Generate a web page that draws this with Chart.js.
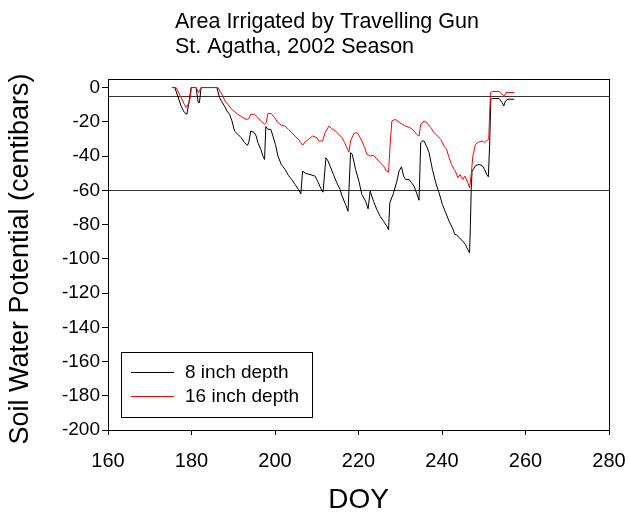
<!DOCTYPE html>
<html>
<head>
<meta charset="utf-8">
<script src="https://cdn.jsdelivr.net/npm/chart.js@4.4.1/dist/chart.umd.min.js"></script>
<style>
  html, body { margin: 0; padding: 0; background: #ffffff; }
  #wrap { width: 629px; height: 517px; }
</style>
</head>
<body>
<div id="wrap"><canvas id="c" width="629" height="517"></canvas></div>
<script>
// Chart text
const titleLines = ['Area Irrigated by Travelling Gun', 'St. Agatha, 2002 Season'];
const xAxisTitle = 'DOY';
const yAxisTitle = 'Soil Water Potential (centibars)';
const seriesNames = ['8 inch depth', '16 inch depth'];

// Axis ticks
const xTicks = [160, 180, 200, 220, 240, 260, 280];
const yTicks = [0, -20, -40, -60, -80, -100, -120, -140, -160, -180, -200];

// Reference levels (centibars)
const thresholds = [-5, -60];

// 8 inch depth: day of year and soil water potential
const doy8 = [175.3, 176.0, 176.7, 177.5, 178.1, 178.4, 178.9, 179.5, 179.9, 181.1, 181.6, 181.9, 182.3, 186.1, 186.7, 187.2, 187.9, 188.5,
  189.1, 189.7, 190.3, 191.1, 191.9, 192.7, 193.4, 193.7, 194.2, 195.0, 195.5, 195.9, 196.6, 197.1, 197.5, 197.8, 198.3, 199.0,
  199.5, 200.1, 200.7, 201.5, 202.4, 203.2, 204.0, 204.8, 205.6, 206.2, 206.6, 207.4, 208.4, 209.6, 210.4, 211.0, 211.5, 212.2,
  212.6, 213.2, 214.0, 214.8, 215.6, 216.0, 216.9, 217.5, 218.1, 218.5, 219.3, 220.1, 220.8, 221.7, 222.3, 222.8, 223.6, 224.4,
  225.2, 226.0, 226.8, 227.2, 227.5, 228.4, 229.2, 229.7, 230.3, 230.8, 231.3, 232.1, 232.7, 233.3, 233.9, 234.5, 234.9, 235.3,
  235.7, 236.3, 236.9, 237.7, 238.5, 239.3, 240.1, 240.9, 241.7, 242.5, 243.1, 243.4, 244.2, 245.0, 245.6, 246.2, 246.6, 246.8,
  247.0, 247.2, 247.6, 248.1, 248.9, 249.6, 250.2, 250.7, 251.1, 251.4, 251.7, 252.1, 253.7, 254.4, 254.8, 255.2, 255.8, 257.3];
const swp8 = [0, 0, -4.9, -10.8, -13.7, -14.7, -15.6, -6.8, 0, 0, -8.8, -8.8, 0, 0, -5.9, -8.0, -10.8, -13.7,
  -15.6, -19.5, -25.4, -27.3, -29.3, -32.2, -33.8, -32.2, -25.4, -26.3, -28.3, -32.2, -36.1, -40.0, -42.0, -22.8, -24.4, -24.4,
  -28.3, -33.2, -40.0, -44.9, -47.8, -51.3, -53.7, -56.6, -59.5, -62.1, -48.8, -50.2, -50.8, -51.7, -55.6, -59.1, -61.1, -41.0,
  -42.4, -45.9, -50.8, -55.6, -59.5, -63.0, -68.3, -72.2, -38.0, -39.0, -47.8, -54.7, -62.5, -66.4, -70.8, -60.5, -66.4, -71.3,
  -75.2, -78.1, -81.0, -83.0, -67.3, -61.5, -54.7, -48.8, -46.3, -51.7, -53.7, -53.7, -55.6, -57.6, -61.5, -65.8, -32.2, -31.2,
  -31.2, -34.2, -38.0, -47.8, -55.6, -61.5, -68.3, -73.2, -78.1, -82.0, -85.9, -85.9, -87.8, -89.8, -91.7, -94.7, -96.6, -81.0,
  -59.5, -48.8, -47.4, -45.5, -44.9, -45.5, -47.8, -50.8, -52.1, -34.2, -6.8, -6.4, -6.4, -8.8, -10.8, -7.8, -6.8, -6.8];

// 16 inch depth: day of year and soil water potential
const doy16 = [175.3, 176.3, 177.5, 178.3, 178.7, 179.5, 180.0, 181.1, 181.7, 182.3, 186.3, 187.5, 188.0, 188.7, 189.6, 191.1, 192.3,
  193.1, 193.7, 194.2, 195.1, 195.9, 196.7, 197.5, 197.9, 198.3, 199.1, 199.9, 200.7, 201.5, 202.4, 203.2, 204.0, 204.8, 205.6,
  206.2, 206.6, 207.2, 208.0, 209.0, 210.0, 210.5, 211.4, 212.0, 212.9, 213.6, 214.5, 215.3, 216.0, 216.7, 217.2, 217.7, 218.1,
  218.9, 219.6, 220.2, 220.8, 221.5, 222.0, 222.8, 223.6, 224.4, 225.2, 226.0, 226.7, 227.2, 227.6, 228.0, 228.8, 229.7, 230.5,
  231.3, 232.3, 233.1, 233.9, 234.5, 234.9, 235.7, 236.5, 237.3, 238.1, 238.9, 239.7, 240.5, 241.1, 241.7, 242.3, 242.9, 243.2,
  243.8, 244.3, 245.0, 245.5, 246.2, 246.6, 247.0, 247.4, 248.0, 248.8, 249.6, 250.2, 250.8, 251.2, 251.6, 252.1, 253.7, 254.4,
  254.9, 255.3, 257.3];
const swp16 = [0, 0, -5.9, -9.8, -11.7, -8.8, 0, 0, -3.0, 0, 0, -4.9, -7.8, -9.8, -12.7, -15.6, -17.6,
  -18.6, -18.2, -15.6, -15.6, -17.6, -19.5, -21.5, -20.5, -15.2, -15.2, -17.6, -20.5, -21.9, -22.5, -24.4, -26.3, -28.3, -30.3,
  -32.2, -33.8, -31.8, -30.3, -28.3, -29.3, -31.2, -31.2, -26.3, -22.5, -24.0, -25.4, -27.3, -29.3, -32.2, -35.1, -37.7, -31.2,
  -26.8, -26.3, -28.3, -31.2, -35.1, -39.0, -40.0, -39.6, -41.6, -43.9, -45.9, -48.8, -49.4, -32.2, -19.5, -18.6, -20.1, -21.5,
  -22.5, -23.4, -24.8, -27.3, -28.3, -21.5, -19.5, -20.9, -23.4, -26.3, -28.3, -30.3, -34.2, -36.1, -41.0, -44.9, -47.8, -48.8,
  -52.7, -50.8, -53.7, -51.7, -55.6, -58.5, -50.8, -40.0, -33.2, -31.8, -31.2, -32.2, -30.9, -30.1, -2.9, -2.3, -2.3, -3.9,
  -5.3, -2.9, -2.9];

const FONT = '"Liberation Sans", Arial, Helvetica, sans-serif';
const COLORS = ['#000000', '#ff0000'];

function pairs(xs, ys) {
  return xs.map((x, i) => ({ x: x, y: ys[i] }));
}

// Frame, reference levels, titles and the in-plot legend
const decorations = {
  id: 'decorations',
  beforeDatasetsDraw(chart) {
    const { ctx, chartArea: a, scales } = chart;
    ctx.save();
    ctx.strokeStyle = '#333333';
    ctx.lineWidth = 1;
    thresholds.forEach(v => {
      const y = Math.round(scales.y.getPixelForValue(v)) + 0.5;
      ctx.beginPath();
      ctx.moveTo(a.left, y);
      ctx.lineTo(a.right, y);
      ctx.stroke();
    });
    ctx.restore();
  },
  afterDraw(chart) {
    const { ctx, chartArea: a } = chart;
    ctx.save();
    // plot frame
    ctx.strokeStyle = '#000000';
    ctx.lineWidth = 1;
    ctx.strokeRect(Math.round(a.left) + 0.5, Math.round(a.top) + 0.5,
      Math.round(a.right - a.left), Math.round(a.bottom - a.top));

    ctx.fillStyle = '#000000';
    // chart title
    ctx.font = '21.5px ' + FONT;
    ctx.textAlign = 'left';
    ctx.textBaseline = 'middle';
    titleLines.forEach((t, i) => ctx.fillText(t, 175, 22 + i * 25));

    // x axis title
    ctx.font = '28px ' + FONT;
    ctx.textAlign = 'center';
    ctx.fillText(xAxisTitle, (a.left + a.right) / 2, 500);

    // y axis title
    ctx.save();
    ctx.translate(21, 259);
    ctx.rotate(-Math.PI / 2);
    ctx.font = '27px ' + FONT;
    ctx.fillText(yAxisTitle, 0, 0);
    ctx.restore();

    // legend box
    const lx = a.left + 13, ly = 352, lw = 191, lh = 65;
    ctx.strokeRect(lx + 0.5, ly + 0.5, lw, lh);
    ctx.font = '19px ' + FONT;
    ctx.textAlign = 'left';
    seriesNames.forEach((name, i) => {
      const y = ly + 20 + i * 24;
      ctx.strokeStyle = COLORS[i];
      ctx.beginPath();
      ctx.moveTo(lx + 10, y + 0.5);
      ctx.lineTo(lx + 53, y + 0.5);
      ctx.stroke();
      ctx.fillStyle = '#000000';
      ctx.fillText(name, lx + 64, y + 1);
    });
    ctx.restore();
  }
};

new Chart(document.getElementById('c'), {
  type: 'scatter',
  data: {
    datasets: [
      { label: seriesNames[0], data: pairs(doy8, swp8), showLine: true, borderColor: COLORS[0],
        borderWidth: 1, pointRadius: 0, tension: 0, order: 1 },
      { label: seriesNames[1], data: pairs(doy16, swp16), showLine: true, borderColor: COLORS[1],
        borderWidth: 1, pointRadius: 0, tension: 0, order: 0 }
    ]
  },
  options: {
    responsive: false,
    animation: false,
    devicePixelRatio: 1,
    layout: { padding: { top: 79, right: 20, left: 0, bottom: 0 } },
    plugins: { legend: { display: false }, tooltip: { enabled: false }, title: { display: false } },
    scales: {
      x: {
        type: 'linear',
        min: xTicks[0],
        max: xTicks[xTicks.length - 1],
        afterBuildTicks: s => { s.ticks = xTicks.map(v => ({ value: v })); },
        afterFit: s => { s.height = 87; s.paddingLeft = 0; s.paddingRight = 0; },
        ticks: { color: '#000000', font: { family: FONT, size: 20 }, padding: 14, maxRotation: 0 },
        grid: { drawOnChartArea: false, drawTicks: true, tickLength: 5, color: '#000000' },
        border: { color: '#000000' }
      },
      y: {
        type: 'linear',
        min: yTicks[yTicks.length - 1],
        max: 5,
        afterBuildTicks: s => { s.ticks = yTicks.map(v => ({ value: v })); },
        afterFit: s => { s.width = 108; s.paddingTop = 0; s.paddingBottom = 0; },
        ticks: { color: '#000000', font: { family: FONT, size: 19 }, padding: 2 },
        grid: { drawOnChartArea: false, drawTicks: true, tickLength: 6, color: '#000000' },
        border: { color: '#000000' }
      }
    }
  },
  plugins: [decorations]
});
</script>
</body>
</html>
